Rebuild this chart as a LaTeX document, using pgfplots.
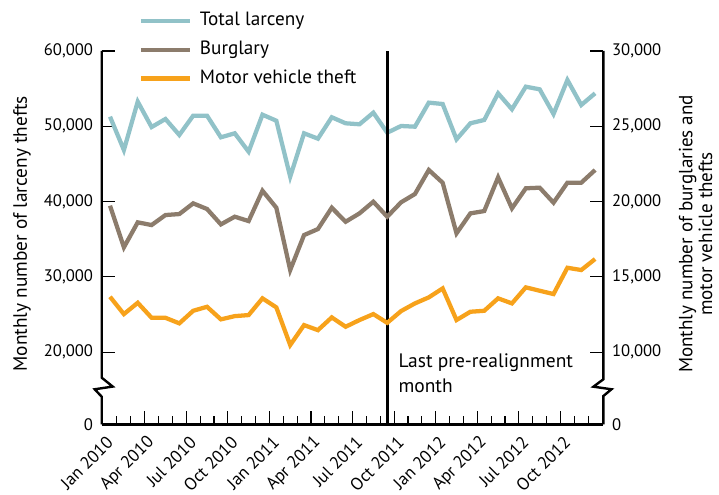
\documentclass[border=0pt]{standalone}
\usepackage{fontspec}
\setmainfont{PT Sans}
\usepackage{pgfplots}
\pgfplotsset{compat=1.18}
\usepackage{pgfplotstable}
\definecolor{larc}{RGB}{145,194,200}
\definecolor{burg}{RGB}{140,124,108}
\definecolor{mvt}{RGB}{247,162,27}

\pgfplotstableread{
i larceny burglary mvt
0 51280 19730 13685
1 46850 16965 12535
2 53270 18625 13285
3 49900 18445 12290
4 50970 19110 12290
5 48850 19175 11920
6 51410 19885 12755
7 51410 19510 13020
8 48540 18490 12185
9 49070 19000 12400
10 46630 18710 12470
11 51540 20725 13580
12 50740 19595 12980
13 43310 15460 10480
14 49070 17780 11805
15 48360 18180 11470
16 51200 19595 12315
17 50400 18665 11695
18 50270 19220 12140
19 51810 19995 12535
20 49150 19000 11955
21 50040 19955 12735
22 49950 20505 13245
23 53140 22100 13645
24 52960 21255 14240
25 48270 17895 12140
26 50400 19220 12690
27 50840 19375 12755
28 54380 21610 13580
29 52260 19555 13245
30 55260 20885 14310
31 54910 20925 14085
32 51630 19930 13865
33 56150 21255 15610
34 52830 21255 15460
35 54380 22100 16190
}\crimedata

\pgfplotsset{
  common/.style={
    scale only axis,
    width=376.3pt, height=280pt,
    at={(0pt,0pt)}, anchor=south west,
    xmin=-0.6, xmax=35.6,
    clip=false,
    tick align=inside,
    major tick length=10pt,
    minor tick length=6pt,
    every tick/.style={black, line width=0.8pt},
    ticklabel style={font=\fontsize{12.5}{14}\selectfont},
    y axis line style={draw=none},
    scaled y ticks=false,
  },
  series/.style={line width=3.2pt},
}

\begin{document}
\begin{tikzpicture}
\useasboundingbox (-76.28pt,-52.28pt) rectangle (462.98pt,318.23pt);
\begin{axis}[common,
  axis x line*=bottom,
  axis y line*=left,
  x axis line style={line width=1.8pt, -},
  ymin=10440, ymax=60000,
  ytick={10440,20000,30000,40000,50000,60000},
  yticklabels={0,{20,000},{30,000},{40,000},{50,000},{60,000}},
  yticklabel style={inner sep=0pt, xshift=-6.3pt},
  xtick={2.5,5.5,...,32.5},
  xticklabels={},
  minor xtick={0.5,1.5,...,34.5},
  extra x ticks={0,3,...,33},
  extra x tick labels={Jan 2010,Apr 2010,Jul 2010,Oct 2010,Jan 2011,Apr 2011,Jul 2011,Oct 2011,Jan 2012,Apr 2012,Jul 2012,Oct 2012},
  extra x tick style={major tick length=0pt,
    xticklabel style={yshift=-11.5pt, xshift=0pt, rotate=45, anchor=east, inner sep=0pt, font=\fontsize{13}{15}\selectfont}},
  ylabel={Monthly number of larceny thefts},
  ylabel style={at={(axis description cs:-0.159,0.51)}, anchor=center, font=\fontsize{14.5}{17}\selectfont},
]
\addplot[series, larc] table[x=i, y=larceny] {\crimedata};
% broken left axis
\draw[line width=1.8pt, line join=miter] (axis cs:-0.6,60000) -- (axis cs:-0.6,16630) -- (axis cs:0.194,15449) -- (axis cs:-1.105,15090) -- (axis cs:-0.6,14107) -- (axis cs:-0.6,10440);
% broken right axis
\draw[line width=1.8pt, line join=miter] (axis cs:35.6,60000) -- (axis cs:35.6,16420) -- (axis cs:34.88,15435) -- (axis cs:36.18,15090) -- (axis cs:35.6,14200) -- (axis cs:35.6,10440);
% realignment marker
\draw[line width=2pt] (axis cs:20,10440) -- (axis cs:20,60000);
\node[anchor=north west, inner sep=0pt, align=left, font=\fontsize{14.6}{18.75}\selectfont] at (axis cs:20.8,19780) {Last pre-realignment\\month};
\end{axis}
\begin{axis}[common,
  axis x line=none,
  axis y line*=right,
  ymin=5220, ymax=30000,
  ytick={5220,10000,15000,20000,25000,30000},
  yticklabels={0,{10,000},{15,000},{20,000},{25,000},{30,000}},
  yticklabel style={inner sep=0pt, xshift=6.3pt},
  ylabel={Monthly number of burglaries and\\motor vehicle thefts},
  ylabel style={at={(axis description cs:1.1836,0.51)}, anchor=center, align=center, font=\fontsize{14.3}{14.8}\selectfont},
  legend image code/.code={\draw[#1] (0pt,0pt) -- (36.75pt,0pt);},
  legend style={draw=none, fill=none, at={(axis description cs:0.0737,0.903)}, anchor=south west,
    inner sep=0pt, outer sep=0pt, row sep=8.5pt,
    font=\fontsize{14.4}{16}\selectfont,
    nodes={inner sep=0pt, text height=10pt, text depth=3pt},
    /tikz/every odd column/.append style={column sep=6pt}},
  legend cell align=left,
]
\addlegendimage{series, larc}
\addlegendentry{Total larceny}
\addplot[series, burg] table[x=i, y=burglary] {\crimedata};
\addlegendentry{Burglary}
\addplot[series, mvt] table[x=i, y=mvt] {\crimedata};
\addlegendentry{Motor vehicle theft}
\end{axis}
\end{tikzpicture}
\end{document}
